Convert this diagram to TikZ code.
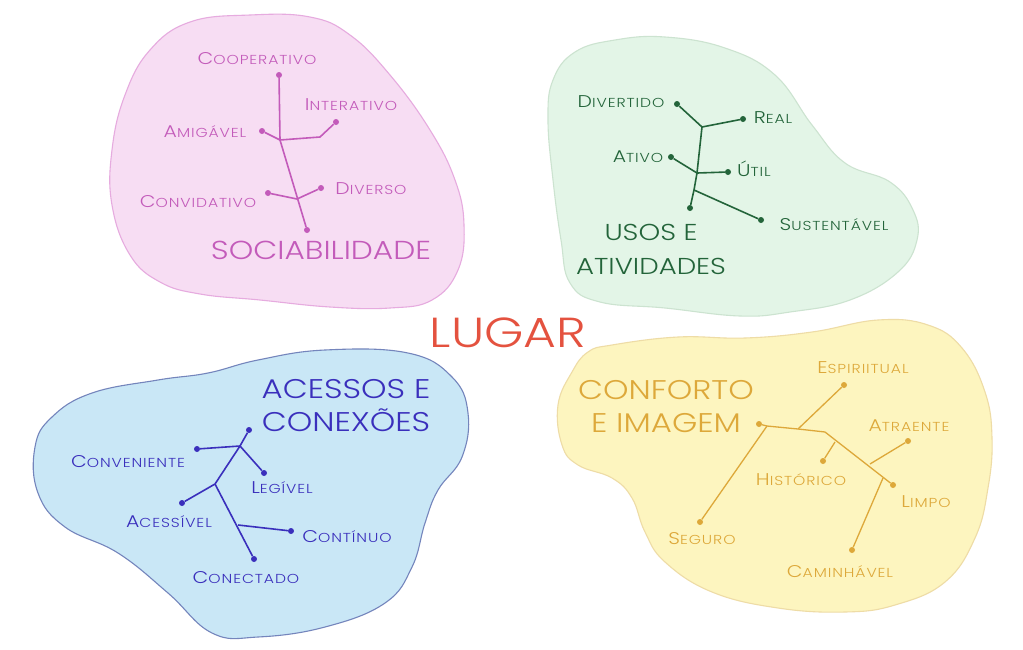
\documentclass[tikz,border=0pt]{standalone}
\usepackage{fontspec}
\setmainfont{Poppins Light}
\newfontfamily\widefont{Poppins Light}[FakeStretch=1.2, LetterSpace=7]
\newfontfamily\titlefont{Poppins Light}[FakeStretch=1.2]
\usetikzlibrary{positioning}

\definecolor{pinkfill}{HTML}{F7DDF3}
\definecolor{pinkline}{HTML}{E6ABDF}
\definecolor{pinkink}{HTML}{C35BBA}
\definecolor{greenfill}{HTML}{E3F5E7}
\definecolor{greenline}{HTML}{CCE3D0}
\definecolor{greenink}{HTML}{23643A}
\definecolor{bluefill}{HTML}{C9E7F6}
\definecolor{blueline}{HTML}{7485BC}
\definecolor{blueink}{HTML}{3A2FBC}
\definecolor{yellowfill}{HTML}{FDF5BF}
\definecolor{yellowline}{HTML}{EEDCA6}
\definecolor{yellowink}{HTML}{DDA83A}
\definecolor{lugarred}{HTML}{E4523F}

% small capitals after the first letter
\newcommand{\sm}[1]{{\fontsize{13}{15}\selectfont #1}}

\begin{document}
\begin{tikzpicture}[
  x=1pt, y=-1pt,
  blob/.style={line width=1.1pt},
  word/.style={font=\widefont\fontsize{17}{19}\selectfont, inner sep=0pt, anchor=base},
  title/.style={font=\titlefont\fontsize{27}{33}\selectfont, inner sep=0pt, anchor=base, align=center},
  dot/.style={circle, fill, inner sep=0pt, minimum size=6pt},
  twig/.style={line width=1.6pt}
]
\useasboundingbox[fill=white] (0,0) rectangle (1023,649);

% Blobs
\filldraw[blob, fill=pinkfill, draw=pinkline] plot[smooth cycle, tension=0.7] coordinates {
  (190,22) (250,15) (310,17) (350,35) (390,75) (430,130) (455,180) (464,225)
  (458,270) (432,300) (390,308) (330,307) (260,300) (200,294) (160,282)
  (130,255) (112,205) (112,150) (125,95) (150,50)};
\filldraw[blob, fill=greenfill, draw=greenline] plot[smooth cycle, tension=0.7] coordinates {
  (548,120) (553,80) (575,52) (615,40) (665,37) (725,48) (775,75) (812,125)
  (845,163) (890,182) (913,210) (917,240) (898,272) (850,300) (790,312)
  (740,316) (665,308) (600,302) (570,283) (561,240) (553,180)};
\filldraw[blob, fill=bluefill, draw=blueline] plot[smooth cycle, tension=0.7] coordinates {
  (258,360) (325,350) (408,353) (452,377) (468,413) (462,457) (438,490)
  (425,523) (412,567) (385,603) (325,627) (258,637) (212,633) (168,593)
  (118,553) (65,527) (38,493) (35,447) (52,417) (92,393) (158,380) (208,373)};
\filldraw[blob, fill=yellowfill, draw=yellowline] plot[smooth cycle, tension=0.7] coordinates {
  (612,345) (678,337) (745,338) (812,332) (878,320) (928,325) (962,348)
  (985,392) (992,438) (988,488) (975,538) (945,582) (895,605) (845,612)
  (778,608) (712,592) (665,562) (645,532) (632,498) (612,478) (578,465)
  (562,445) (558,405) (572,372) (588,352)};

% Centre
\node[font=\titlefont\fontsize{42}{46}\selectfont, text=lugarred, inner sep=0pt, anchor=base] (lugar) at (508,347) {LUGAR};

% Sociabilidade
\begin{scope}[color=pinkink]
\node[dot] (coop) at (279,75) {};
\node[dot] (amig) at (262,131) {};
\node[dot] (inter) at (336,122) {};
\node[dot] (convid) at (268,193) {};
\node[dot] (divers) at (321,188) {};
\node[dot] (sroot) at (307,230) {};
\coordinate (s1) at (280,140);
\coordinate (s2) at (320,137);
\coordinate (s3) at (297,199);
\draw[twig] (coop) -- (s1) -- (sroot);
\draw[twig] (amig) -- (s1) -- (s2) -- (inter);
\draw[twig] (convid) -- (s3) -- (divers);
\node[word] (tcoop) at (257,64) {C\sm{OOPERATIVO}};
\node[word] (tamig) at (205,137) {A\sm{MIGÁVEL}};
\node[word] (tinter) at (351,110) {I\sm{NTERATIVO}};
\node[word] (tconvid) at (198,207) {C\sm{ONVIDATIVO}};
\node[word] (tdivers) at (371,194) {D\sm{IVERSO}};
\node[title, font=\titlefont\fontsize{26}{33}\selectfont] (tsoc) at (321,259) {SOCIABILIDADE};
\end{scope}

% Usos e atividades
\begin{scope}[color=greenink]
\node[dot] (divert) at (677,104) {};
\node[dot] (real) at (743,119) {};
\node[dot] (ativo) at (671,157) {};
\node[dot] (util) at (728,172) {};
\node[dot] (sust) at (761,220) {};
\node[dot] (uroot) at (690,208) {};
\coordinate (u1) at (702,127);
\coordinate (u2) at (697,173);
\coordinate (u3) at (694,190);
\draw[twig] (divert) -- (u1) -- (real);
\draw[twig] (u1) -- (u2) -- (u3) -- (uroot);
\draw[twig] (ativo) -- (u2) -- (util);
\draw[twig] (u3) -- (sust);
\node[word] (tdivert) at (621,107) {D\sm{IVERTIDO}};
\node[word] (treal) at (773,123) {R\sm{EAL}};
\node[word] (tativo) at (638,162) {A\sm{TIVO}};
\node[word] (tutil) at (754,176) {Ú\sm{TIL}};
\node[word] (tsust) at (834,230) {S\sm{USTENTÁVEL}};
\node[title, font=\titlefont\fontsize{23}{34}\selectfont] (tusos) at (651,274) {USOS E\\ATIVIDADES};
\end{scope}

% Acessos e conexoes
\begin{scope}[color=blueink]
\node[dot] (atop) at (249,430) {};
\node[dot] (conv) at (197,449) {};
\node[dot] (leg) at (264,473) {};
\node[dot] (acess) at (182,503) {};
\node[dot] (contin) at (291,531) {};
\node[dot] (conect) at (254,559) {};
\coordinate (a1) at (240,446);
\coordinate (a2) at (215,484);
\coordinate (a3) at (238,525);
\draw[twig] (atop) -- (a1) -- (a2) -- (acess);
\draw[twig] (conv) -- (a1) -- (leg);
\draw[twig] (a2) -- (conect);
\draw[twig] (a3) -- (contin);
\node[word] (tconv) at (128,467) {C\sm{ONVENIENTE}};
\node[word] (tleg) at (282,493) {L\sm{EGÍVEL}};
\node[word] (tacess) at (169,527) {A\sm{CESSÍVEL}};
\node[word] (tcontin) at (347,542) {C\sm{ONTÍNUO}};
\node[word] (tconect) at (246,583) {C\sm{ONECTADO}};
\node[title] (tacessos) at (346,431) {ACESSOS E\\CONEXÕES};
\end{scope}

% Conforto e imagem
\begin{scope}[color=yellowink]
\node[dot] (cleft) at (759,424) {};
\node[dot] (seguro) at (700,522) {};
\node[dot] (espir) at (844,385) {};
\node[dot] (hist) at (823,461) {};
\node[dot] (atra) at (908,441) {};
\node[dot] (limpo) at (893,485) {};
\node[dot] (camin) at (852,550) {};
\coordinate (c1) at (767,426);
\coordinate (c2) at (798,429);
\coordinate (c3) at (825,432);
\coordinate (c4) at (835,442);
\coordinate (c5) at (870,464);
\coordinate (c6) at (883,478);
\draw[twig, line width=1.3pt] (cleft) -- (c1) -- (c2) -- (c3) -- (limpo);
\draw[twig, line width=1.3pt] (c1) -- (seguro);
\draw[twig, line width=1.3pt] (c2) -- (espir);
\draw[twig, line width=1.3pt] (c4) -- (hist);
\draw[twig, line width=1.3pt] (c5) -- (atra);
\draw[twig, line width=1.3pt] (c6) -- (camin);
\node[word] (tespir) at (863,373) {E\sm{SPIRIITUAL}};
\node[word] (tatra) at (909,431) {A\sm{TRAENTE}};
\node[word] (thist) at (801,485) {H\sm{ISTÓRICO}};
\node[word] (tlimpo) at (926,507) {L\sm{IMPO}};
\node[word] (tseguro) at (702,544) {S\sm{EGURO}};
\node[word] (tcamin) at (840,577) {C\sm{AMINHÁVEL}};
\node[title] (tconf) at (666,432) {CONFORTO\\E IMAGEM};
\end{scope}
\end{tikzpicture}
\end{document}
